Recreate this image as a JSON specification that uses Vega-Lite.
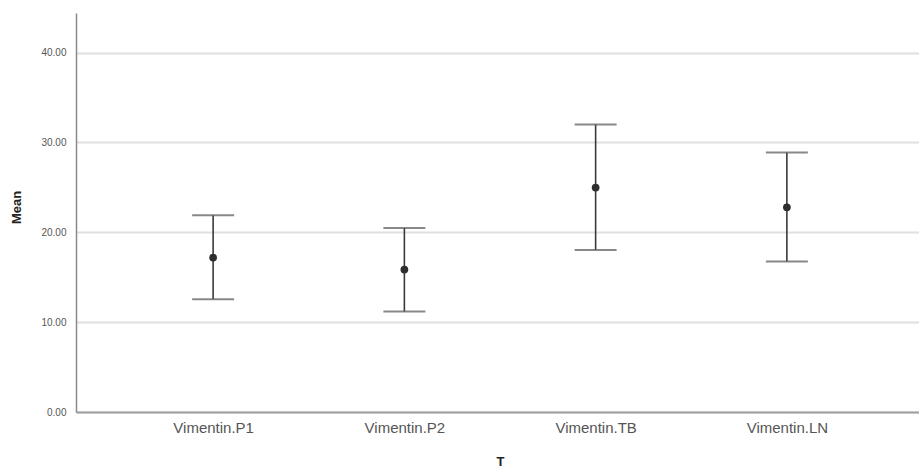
{
  "$schema": "https://vega.github.io/schema/vega-lite/v6.json",
  "width": 848,
  "height": 399,
  "autosize": {"type": "none"},
  "padding": {"left": 76, "top": 13, "right": -5, "bottom": 58},
  "background": "white",
  "config": {
    "view": {"stroke": null},
    "font": "Liberation Sans"
  },
  "data": {
    "values": [
      {"T": "Vimentin.P1", "mean": 17.18, "lower": 12.54, "upper": 21.89},
      {"T": "Vimentin.P2", "mean": 15.85, "lower": 11.17, "upper": 20.48},
      {"T": "Vimentin.TB", "mean": 24.97, "lower": 18.03, "upper": 31.99},
      {"T": "Vimentin.LN", "mean": 22.78, "lower": 16.74, "upper": 28.87}
    ]
  },
  "encoding": {
    "x": {
      "field": "T",
      "type": "nominal",
      "sort": null,
      "scale": {"type": "point", "padding": 0.717},
      "axis": {
        "title": "T",
        "titleFontSize": 13,
        "titleFontWeight": "bold",
        "titleColor": "#222",
        "titleY": 43,
        "labelAngle": 0,
        "labelFontSize": 15,
        "labelColor": "#555",
        "labelPadding": 8,
        "ticks": false,
        "domainColor": "#a0a0a0",
        "domainWidth": 2,
        "grid": false
      }
    }
  },
  "layer": [
    {
      "mark": {"type": "rule", "color": "#3a3a3a", "strokeWidth": 1.6},
      "encoding": {
        "y": {
          "field": "lower",
          "type": "quantitative",
          "scale": {"domain": [0, 44.4], "nice": false, "zero": true},
          "axis": {
            "title": "Mean",
            "titleFontSize": 13,
            "titleFontWeight": "bold",
            "titleColor": "#222",
            "titleX": -53,
            "titleY": 194,
            "values": [0, 10, 20, 30, 40],
            "format": ".2f",
            "labelFontSize": 10,
            "labelColor": "#555",
            "labelPadding": 10,
            "ticks": false,
            "grid": true,
            "gridColor": "#e0e0e0",
            "gridWidth": 2,
            "domainColor": "#8a8a8a",
            "domainWidth": 1.5
          }
        },
        "y2": {"field": "upper"}
      }
    },
    {
      "mark": {"type": "tick", "color": "#555", "thickness": 2, "size": 42, "orient": "horizontal"},
      "encoding": {"y": {"field": "upper", "type": "quantitative"}}
    },
    {
      "mark": {"type": "tick", "color": "#555", "thickness": 2, "size": 42, "orient": "horizontal"},
      "encoding": {"y": {"field": "lower", "type": "quantitative"}}
    },
    {
      "mark": {"type": "point", "filled": true, "color": "#2e2e2e", "opacity": 1, "size": 60},
      "encoding": {"y": {"field": "mean", "type": "quantitative"}}
    }
  ]
}
